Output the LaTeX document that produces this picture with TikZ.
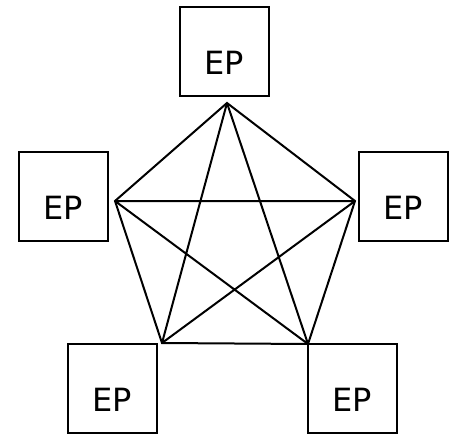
\documentclass[tikz,border=0pt]{standalone}
\usepackage{fontspec}
\setmainfont{DejaVu Sans}
\usepackage{tikz}

\begin{document}
\begin{tikzpicture}[x=1pt, y=-1pt,
  epbox/.style={draw, line width=2pt, minimum size=89pt, inner sep=0pt,
    font=\fontsize{32}{38}\selectfont, text height=46pt, text depth=0pt},
  link/.style={line width=2pt}]
\useasboundingbox (0,0) rectangle (450,434);
\node[epbox] (epT) at (224.5,51) {EP};
\node[epbox] (epL) at (63.5,196) {EP};
\node[epbox] (epR) at (403,196) {EP};
\node[epbox] (epBL) at (112,388) {EP};
\node[epbox] (epBR) at (352.5,388) {EP};
\coordinate (vT) at (227,103);
\coordinate (vL) at (115,201);
\coordinate (vR) at (355,201);
\coordinate (vBL) at (162,343);
\coordinate (vBR) at (308,344);
\draw[link] (vT) -- (vR) -- (vBR) -- (vBL) -- (vL) -- cycle;
\draw[link] (vT) -- (vBL) (vT) -- (vBR) (vL) -- (vR) (vL) -- (vBR) (vR) -- (vBL);
\end{tikzpicture}
\end{document}
